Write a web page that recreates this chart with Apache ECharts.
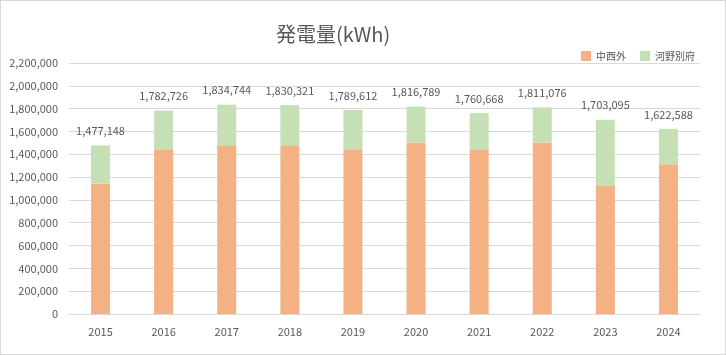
<!DOCTYPE html>
<html><head><meta charset="utf-8">
<script src="https://cdn.jsdelivr.net/npm/echarts@6/dist/echarts.min.js"></script>
<style>html,body{margin:0;padding:0;background:#fff}#c{width:726px;height:355px;box-sizing:border-box;border:1px solid #d9d9d9}</style>
</head><body><div id="c"></div>
<script>
const years = ['2015','2016','2017','2018','2019','2020','2021','2022','2023','2024'];
const totals = [1477148,1782726,1834744,1830321,1789612,1816789,1760668,1811076,1703095,1622588];
const nakanishi = [1142000,1443000,1478000,1478000,1443000,1504000,1443000,1504000,1122000,1313000];
const kono = totals.map((t,i)=>t-nakanishi[i]);
const seriesNames = ['中西外','河野別府'];
const FONT = '"Noto Sans CJK JP", "Noto Sans", sans-serif';
const chart = echarts.init(document.getElementById('c'), null, {renderer:'canvas'});
chart.setOption({
  animation:false,
  textStyle:{fontFamily:FONT},
  title:{text:'発電量(kWh)', left:270, top:18, textStyle:{fontFamily:FONT,fontSize:20,fontWeight:'normal',color:'#595959'}},
  legend:{right:25, top:45, itemWidth:10, itemHeight:10, itemGap:14, icon:'rect',
    textStyle:{fontFamily:FONT,fontSize:10,color:'#595959'}, data:seriesNames},
  grid:{left:68,right:25,top:62,bottom:40,containLabel:false},
  xAxis:{type:'category',data:years,
    axisLine:{lineStyle:{color:'#d9d9d9'}},axisTick:{show:false},
    axisLabel:{fontFamily:FONT,fontSize:11,color:'#595959',margin:12}},
  yAxis:{type:'value',min:0,max:2200000,interval:200000,
    axisLine:{show:false},axisTick:{show:false},
    splitLine:{lineStyle:{color:'#d9d9d9'}},
    axisLabel:{fontFamily:FONT,fontSize:11,color:'#595959',margin:11,
      formatter:v=>v.toLocaleString('en-US')}},
  series:[
    {name:seriesNames[0],type:'bar',stack:'a',barWidth:19,data:nakanishi,itemStyle:{color:'#f4b183'}},
    {name:seriesNames[1],type:'bar',stack:'a',barWidth:19,data:kono,itemStyle:{color:'#c5e0b4'},
      label:{show:true,position:'top',distance:9,fontFamily:FONT,fontSize:11,color:'#595959',
        formatter:p=>totals[p.dataIndex].toLocaleString('en-US')}}
  ]
});
</script></body></html>
